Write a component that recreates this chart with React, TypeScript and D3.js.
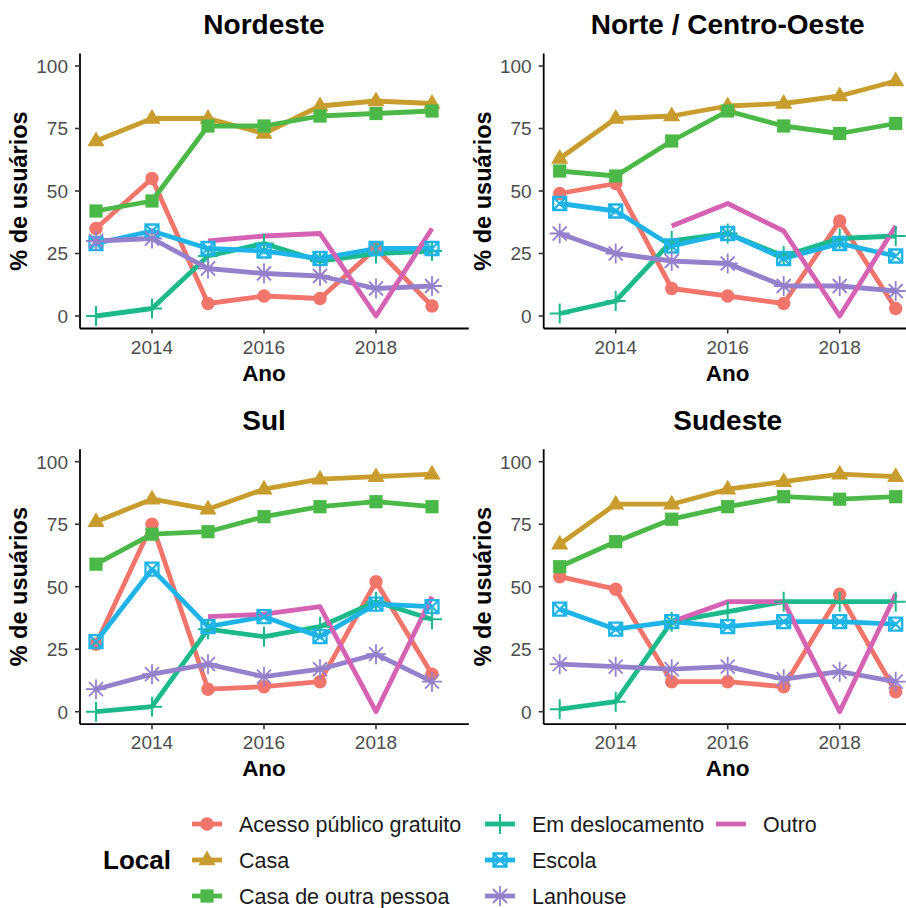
import React from 'react';
import * as d3 from 'd3';

const years = [2013, 2014, 2015, 2016, 2017, 2018, 2019];
const seriesNames = ['Acesso público gratuito', 'Casa', 'Casa de outra pessoa', 'Em deslocamento', 'Escola', 'Lanhouse', 'Outro'];
const seriesColors = ['#F2756B', '#C89D2E', '#4CB848', '#1BB98C', '#1FB4E8', '#9580CC', '#D463B3'];
const seriesShapes = ['circle', 'triangle', 'square', 'plus', 'squarex', 'asterisk', 'none'];
const regionTitles = ['Nordeste', 'Norte / Centro-Oeste', 'Sul', 'Sudeste'];
const xTicks = [2014, 2016, 2018];
const yTicks = [0, 25, 50, 75, 100];

// rows in series order: Acesso, Casa, Casa de outra pessoa, Em deslocamento, Escola, Lanhouse, Outro
const nordeste = [
  [35, 55, 5, 8, 7, 27, 4],
  [70, 79, 79, 73, 84, 86, 85],
  [42, 46, 76, 76, 80, 81, 82],
  [0, 3, 24, 29, 22, 25, 26],
  [29, 34, 27, 26, 23, 27, 27],
  [30, 31, 19, 17, 16, 11, 12],
  [null, null, 30, 32, 33, 0, 35],
];
const norteCentroOeste = [
  [49, 53, 11, 8, 5, 38, 3],
  [63, 79, 80, 84, 85, 88, 94],
  [58, 56, 70, 82, 76, 73, 77],
  [1, 6, 30, 33, 24, 31, 32],
  [45, 42, 28, 33, 23, 29, 24],
  [33, 25, 22, 21, 12, 12, 10],
  [null, null, 36, 45, 34, 0, 36],
];
const sul = [
  [27, 75, 9, 10, 12, 52, 15],
  [76, 85, 81, 89, 93, 94, 95],
  [59, 71, 72, 78, 82, 84, 82],
  [0, 2, 33, 30, 34, 44, 37],
  [28, 57, 34, 38, 30, 43, 42],
  [9, 15, 19, 14, 17, 23, 12],
  [null, null, 38, 39, 42, 0, 46],
];
const sudeste = [
  [54, 49, 12, 12, 10, 47, 8],
  [67, 83, 83, 89, 92, 95, 94],
  [58, 68, 77, 82, 86, 85, 86],
  [1, 4, 36, 40, 44, 44, 44],
  [41, 33, 36, 34, 36, 36, 35],
  [19, 18, 17, 18, 13, 16, 12],
  [null, null, 36, 44, 44, 0, 47],
];
const regionValues = [nordeste, norteCentroOeste, sul, sudeste];

const FONT = '"Liberation Sans", Arial, Helvetica, sans-serif';
const LINE_W = 4.8;

function Marker({ shape, color, x, y }: { shape: string; color: string; x: number; y: number }) {
  const t = `translate(${x},${y})`;
  if (shape === 'circle') return <circle cx={x} cy={y} r={6.7} fill={color} />;
  if (shape === 'square') return <rect x={x - 6.6} y={y - 6.6} width={13.2} height={13.2} fill={color} />;
  if (shape === 'triangle') return <path transform={t} d="M0,-9.5L8.6,5.3L-8.6,5.3Z" fill={color} />;
  if (shape === 'plus')
    return <path transform={t} d="M-10,0H10M0,-10V10" stroke={color} strokeWidth={2} fill="none" />;
  if (shape === 'squarex')
    return (
      <path transform={t} d="M-6.5,-6.5H6.5V6.5H-6.5ZM-6.5,-6.5L6.5,6.5M6.5,-6.5L-6.5,6.5" stroke={color} strokeWidth={2.3} fill="none" />
    );
  if (shape === 'asterisk')
    return (
      <path transform={t} d="M-10,0H10M0,-10V10M-7,-7L7,7M7,-7L-7,7" stroke={color} strokeWidth={1.8} fill="none" />
    );
  return null;
}

function Panel({ title, values, left, top }: { title: string; values: (number | null)[][]; left: number; top: number }) {
  const axisX = left + 80;
  const x = d3.scaleLinear().domain([2012.7, 2019.3]).range([axisX - 0.8, axisX + 368.8]);
  const y = d3.scaleLinear().domain([-5, 105]).range([top + 328.5, top + 53.5]);
  const axisY = y(-5);
  const line = d3
    .line<number | null>()
    .defined((d) => d !== null)
    .x((_, i) => x(years[i]))
    .y((d) => y(d as number));
  const cx = (x(2012.7) + x(2019.3)) / 2;
  const cy = (y(-5) + y(105)) / 2;
  return (
    <g>
      <text x={cx} y={top + 34} textAnchor="middle" fontFamily={FONT} fontWeight="bold" fontSize={28} fill="#000">
        {title}
      </text>
      {values.map((row, s) => (
        <path key={'l' + s} d={line(row) || ''} fill="none" stroke={seriesColors[s]} strokeWidth={LINE_W} strokeLinejoin="round" />
      ))}
      {values.map((row, s) =>
        row.map((v, i) =>
          v === null ? null : <Marker key={`p${s}-${i}`} shape={seriesShapes[s]} color={seriesColors[s]} x={x(years[i])} y={y(v)} />
        )
      )}
      <line x1={axisX} x2={axisX} y1={y(105)} y2={axisY} stroke="#000" strokeWidth={1.8} />
      <line x1={axisX} x2={x(2019.3) + 20} y1={axisY} y2={axisY} stroke="#000" strokeWidth={1.8} />
      {yTicks.map((t) => (
        <g key={'y' + t}>
          <line x1={axisX - 5} x2={axisX} y1={y(t)} y2={y(t)} stroke="#333" strokeWidth={1.6} />
          <text x={axisX - 12} y={y(t) + 6.8} textAnchor="end" fontFamily={FONT} fontSize={19} fill="#4D4D4D">
            {t}
          </text>
        </g>
      ))}
      {xTicks.map((t) => (
        <g key={'x' + t}>
          <line x1={x(t)} x2={x(t)} y1={axisY} y2={axisY + 5} stroke="#333" strokeWidth={1.6} />
          <text x={x(t)} y={axisY + 25} textAnchor="middle" fontFamily={FONT} fontSize={19} fill="#4D4D4D">
            {t}
          </text>
        </g>
      ))}
      <text x={cx} y={axisY + 52} textAnchor="middle" fontFamily={FONT} fontWeight="bold" fontSize={22.5} fill="#000">
        Ano
      </text>
      <text
        transform={`translate(${axisX - 53},${cy}) rotate(-90)`}
        textAnchor="middle"
        fontFamily={FONT}
        fontWeight="bold"
        fontSize={23.5}
        fill="#000"
      >
        % de usuários
      </text>
    </g>
  );
}

function Legend() {
  const colX = [207, 500, 731];
  const rowY = [824, 860, 896];
  return (
    <g>
      <text x={103} y={869} fontFamily={FONT} fontWeight="bold" fontSize={26} fill="#000">
        Local
      </text>
      {seriesNames.map((name, i) => {
        const cxk = colX[Math.floor(i / 3)];
        const cyk = rowY[i % 3];
        return (
          <g key={name}>
            <line x1={cxk - 15} x2={cxk + 15} y1={cyk} y2={cyk} stroke={seriesColors[i]} strokeWidth={LINE_W} />
            <Marker shape={seriesShapes[i]} color={seriesColors[i]} x={cxk} y={cyk} />
            <text x={cxk + 32} y={cyk + 7.7} fontFamily={FONT} fontSize={21.5} fill="#1a1a1a">
              {name}
            </text>
          </g>
        );
      })}
    </g>
  );
}

export default function App() {
  const offsets = [
    [0, 0],
    [463.7, 0],
    [0, 395.7],
    [463.7, 395.7],
  ];
  return (
    <svg width={906} height={908} style={{ position: 'absolute', left: 0, top: 0, background: '#fff' }}>
      <rect width={906} height={908} fill="#fff" />
      {regionTitles.map((t, i) => (
        <Panel key={t} title={t} values={regionValues[i]} left={offsets[i][0]} top={offsets[i][1]} />
      ))}
      <Legend />
    </svg>
  );
}
